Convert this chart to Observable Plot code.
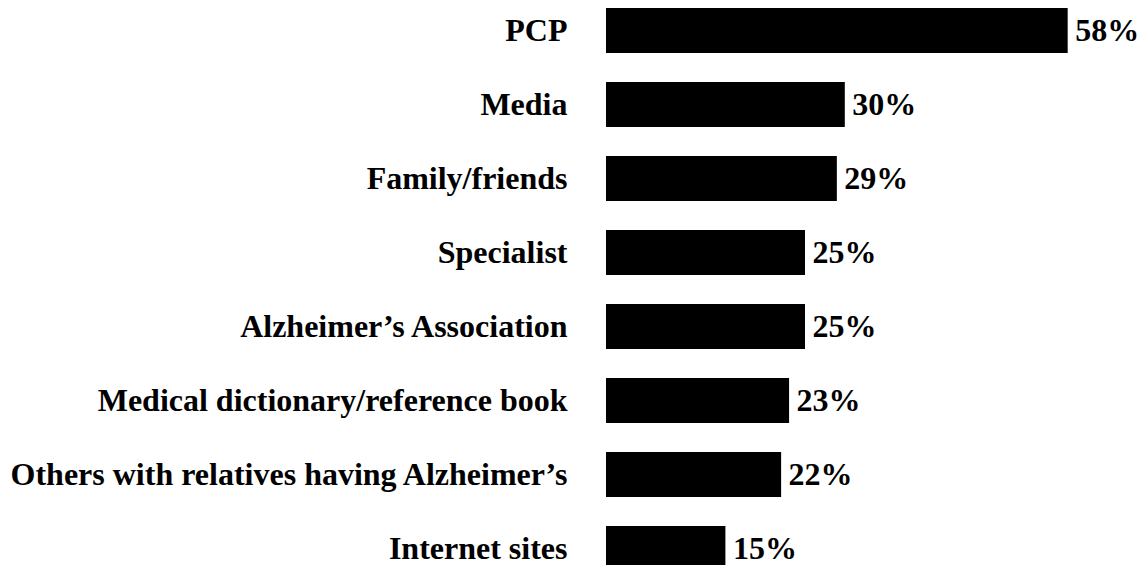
<!DOCTYPE html>
<html>
<head>
<meta charset="utf-8">
<script src="https://cdn.jsdelivr.net/npm/d3@7"></script>
<script src="https://cdn.jsdelivr.net/npm/@observablehq/plot@0.6"></script>
<style>
  html, body { margin: 0; padding: 0; background: #fff; }
  #chart svg { display: block; }
</style>
</head>
<body>
<div id="chart"></div>
<script>
const categories = [
  "PCP",
  "Media",
  "Family/friends",
  "Specialist",
  "Alzheimer\u2019s Association",
  "Medical dictionary/reference book",
  "Others with relatives having Alzheimer\u2019s",
  "Internet sites"
];
const values = [58, 30, 29, 25, 25, 23, 22, 15];
const valueLabels = ["58%", "30%", "29%", "25%", "25%", "23%", "22%", "15%"];

const data = categories.map((c, i) => ({category: c, value: values[i], label: valueLabels[i]}));

const chart = Plot.plot({
  width: 1142,
  height: 565,
  marginTop: 0, marginBottom: 0, marginLeft: 0, marginRight: 0,
  style: {fontFamily: "'Liberation Serif', 'Times New Roman', serif", background: "#fff"},
  x: {domain: [0, 60], range: [606, 606 + 7.96 * 60], axis: null},
  y: {domain: categories, range: [-6.5, 585.5], paddingInner: 0.392, paddingOuter: 0.196, axis: null},
  marks: [
    Plot.barX(data, {x: "value", y: "category", fill: "#000"}),
    Plot.text(data, {x: 0, y: "category", text: "category", textAnchor: "end", dx: -39,
      fontSize: 32, fontWeight: "bold", fill: "#000"}),
    Plot.text(data, {x: "value", y: "category", text: "label", textAnchor: "start", dx: 7,
      fontSize: 32, fontWeight: "bold", fill: "#000"})
  ]
});
document.getElementById("chart").appendChild(chart);
</script>
</body>
</html>
